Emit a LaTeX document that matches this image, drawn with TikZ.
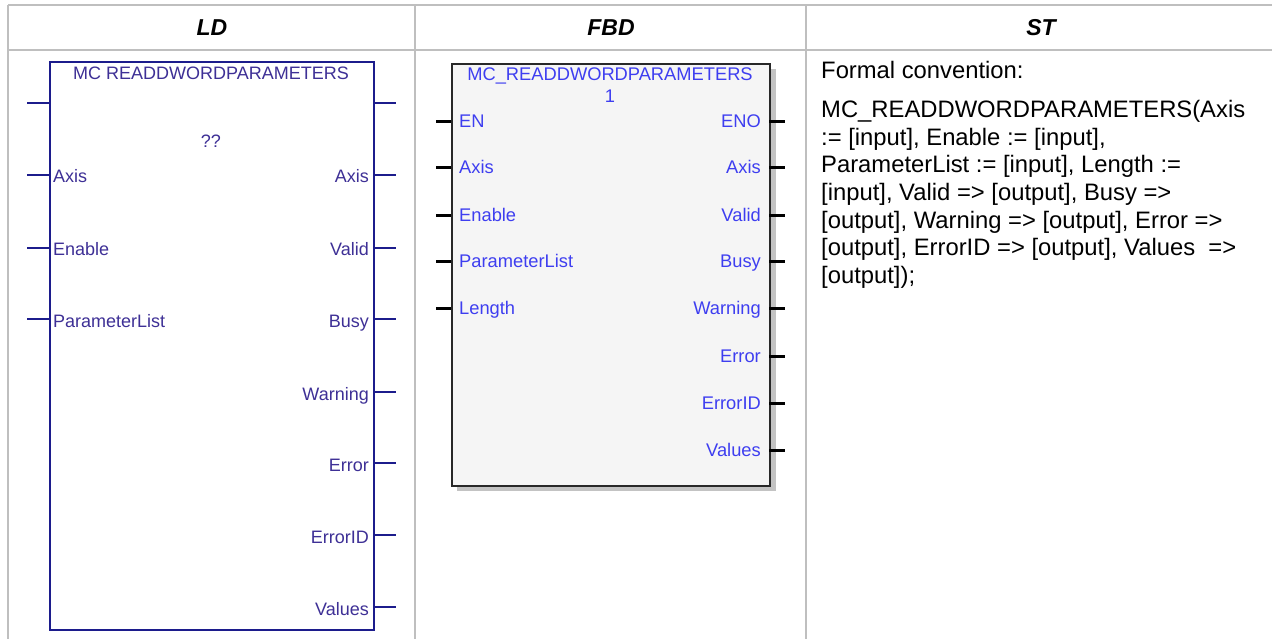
\documentclass[tikz,border=0pt]{standalone}
\usepackage{fontspec}
\setmainfont{Liberation Sans}
\definecolor{gridgray}{RGB}{191,191,191}
\definecolor{ldnavy}{RGB}{28,28,140}
\definecolor{ldtext}{RGB}{62,48,150}
\definecolor{fbdtext}{RGB}{62,62,240}
\definecolor{fbdfill}{RGB}{245,245,245}
\definecolor{fbdborder}{RGB}{40,40,40}
\definecolor{shadowgray}{RGB}{195,195,195}
\begin{document}
\begin{tikzpicture}[x=1pt,y=-1pt,
  grid/.style={draw=gridgray,line width=2pt},
  hdr/.style={font=\fontsize{23}{27}\selectfont\bfseries\itshape,inner sep=0pt,anchor=base},
  ldbox/.style={draw=ldnavy,line width=2pt,fill=white,inner sep=0pt,anchor=north west},
  fbdbox/.style={draw=fbdborder,line width=2pt,fill=fbdfill,inner sep=0pt,anchor=north west},
  ldpin/.style={draw=ldnavy,line width=2pt},
  fbdpin/.style={draw=black,line width=3pt},
  ldlbl/.style={text=ldtext,font=\fontsize{18}{21}\selectfont,inner sep=0pt},
  fbdlbl/.style={text=fbdtext,font=\fontsize{18.3}{21}\selectfont,inner sep=0pt},
  sttext/.style={font=\fontsize{23.8}{27.6}\selectfont,inner sep=0pt,anchor=base west}
]
\useasboundingbox (0,0) rectangle (1272,639);
% table grid
\draw[grid] (8,5.5) -- (1272,5.5);
\draw[grid] (8,50) -- (1272,50);
\draw[grid] (8,5.5) -- (8,639);
\draw[grid] (415,5.5) -- (415,639);
\draw[grid] (806,5.5) -- (806,639);
% headers
\node[hdr] (hld) at (212,36) {LD};
\node[hdr] (hfbd) at (611,36) {FBD};
\node[hdr] (hst) at (1041,36) {ST};

% ---------------- LD block ----------------
\node[ldbox,minimum width=324pt,minimum height=568pt] (ld) at (49,61) {};
\foreach \y in {103,175,248,319} {\draw[ldpin] (27,\y) -- (49,\y);}
\foreach \y in {103,175,248,319,392,463,535,607} {\draw[ldpin] (373,\y) -- (396,\y);}
\node[ldlbl,anchor=base] (ldtitle) at (211,80) {MC READDWORDPARAMETERS};
\node[ldlbl,anchor=base] (ldq) at (211,148) {??};
\node[ldlbl,anchor=base west] (ldi1) at (53,183) {Axis};
\node[ldlbl,anchor=base west] (ldi2) at (53,256) {Enable};
\node[ldlbl,anchor=base west] (ldi3) at (53,327) {ParameterList};
\node[ldlbl,anchor=base east] (ldo1) at (369,183) {Axis};
\node[ldlbl,anchor=base east] (ldo2) at (369,256) {Valid};
\node[ldlbl,anchor=base east] (ldo3) at (369,327) {Busy};
\node[ldlbl,anchor=base east] (ldo4) at (369,400) {Warning};
\node[ldlbl,anchor=base east] (ldo5) at (369,471) {Error};
\node[ldlbl,anchor=base east] (ldo6) at (369,543) {ErrorID};
\node[ldlbl,anchor=base east] (ldo7) at (369,615) {Values};

% ---------------- FBD block ----------------
\fill[shadowgray] (457,69) rectangle (776,491);
\node[fbdbox,minimum width=318pt,minimum height=422pt] (fbd) at (451,63) {};
\foreach \y in {122,168,216,262,308} {\draw[fbdpin] (436,\y) -- (451,\y);}
\foreach \y in {122,168,216,262,308,356,403,450} {\draw[fbdpin] (769,\y) -- (785,\y);}
\node[fbdlbl,anchor=base] (fbdtitle) at (610,80.5) {MC\_READDWORDPARAMETERS};
\node[fbdlbl,anchor=base] (fbdnum) at (610,103) {1};
\node[fbdlbl,anchor=base west] (fi0) at (459,128) {EN};
\node[fbdlbl,anchor=base west] (fi1) at (459,174) {Axis};
\node[fbdlbl,anchor=base west] (fi2) at (459,222) {Enable};
\node[fbdlbl,anchor=base west] (fi3) at (459,268) {ParameterList};
\node[fbdlbl,anchor=base west] (fi4) at (459,314) {Length};
\node[fbdlbl,anchor=base east] (fo0) at (761,128) {ENO};
\node[fbdlbl,anchor=base east] (fo1) at (761,174) {Axis};
\node[fbdlbl,anchor=base east] (fo2) at (761,222) {Valid};
\node[fbdlbl,anchor=base east] (fo3) at (761,268) {Busy};
\node[fbdlbl,anchor=base east] (fo4) at (761,314) {Warning};
\node[fbdlbl,anchor=base east] (fo5) at (761,362) {Error};
\node[fbdlbl,anchor=base east] (fo6) at (761,409) {ErrorID};
\node[fbdlbl,anchor=base east] (fo7) at (761,456) {Values};

% ---------------- ST text ----------------
\node[sttext] (st0) at (821,79) {Formal convention:};
\node[sttext] (st1) at (821,117.7) {MC\_READDWORDPARAMETERS(Axis};
\node[sttext] (st2) at (821,145.3) {{:=} {[input]}, Enable := {[input]},};
\node[sttext] (st3) at (821,172.9) {ParameterList := {[input]}, Length :=};
\node[sttext] (st4) at (821,200.5) {{[input]}, Valid => {[output]}, Busy =>};
\node[sttext] (st5) at (821,228.1) {{[output]}, Warning => {[output]}, Error =>};
\node[sttext] (st6) at (821,255.7) {{[output]}, ErrorID => {[output]}, Values\ \ =>};
\node[sttext] (st7) at (821,283.3) {{[output]});};
\end{tikzpicture}
\end{document}
